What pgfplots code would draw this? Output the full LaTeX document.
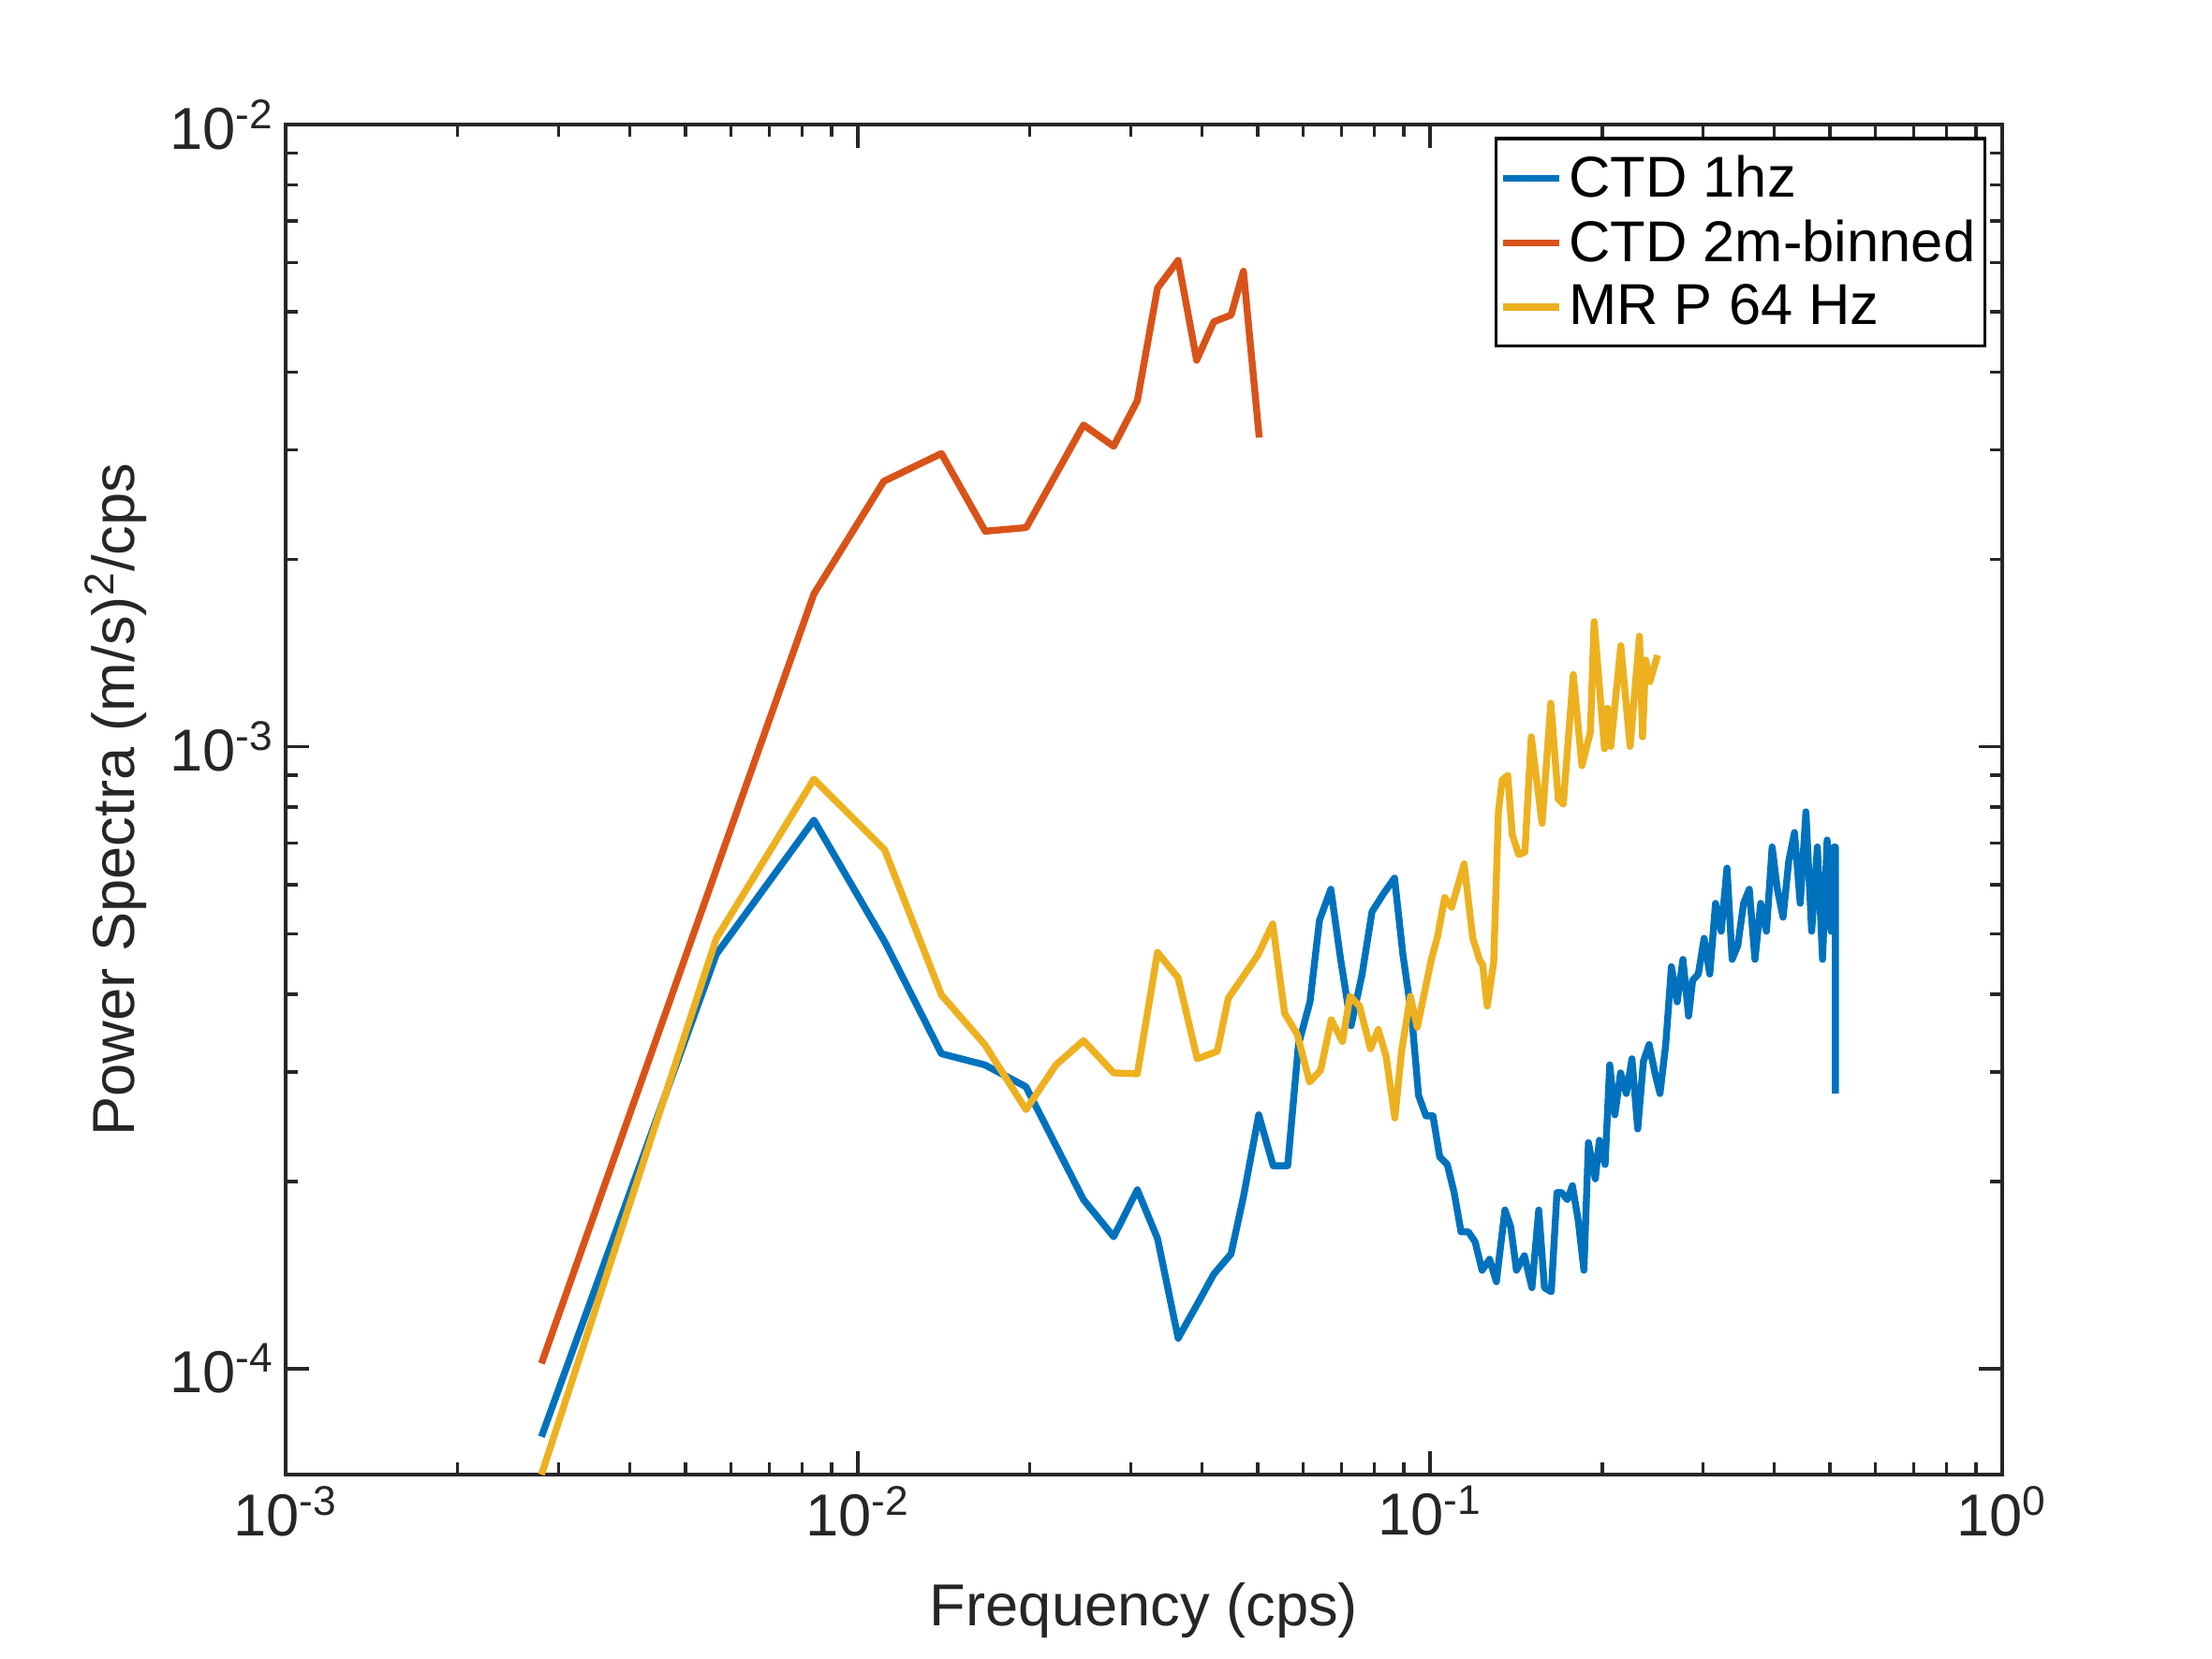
\documentclass[border=0pt]{standalone}
\usepackage{pgfplots}
\pgfplotsset{compat=1.18}
\usepackage{fontspec}
\setmainfont{Liberation Sans}
\definecolor{mblue}{RGB}{0,114,189}
\definecolor{morange}{RGB}{217,83,25}
\definecolor{myellow}{RGB}{237,177,32}
\definecolor{axgray}{RGB}{38,38,38}
\begin{document}
\begin{tikzpicture}
\useasboundingbox (0,0) rectangle (23.62cm,17.71cm);
\begin{axis}[
  at={(3.05cm,1.96cm)}, anchor=south west,
  scale only axis, width=18.33cm, height=14.42cm,
  xmode=log, ymode=log,
  xmin=1e-3, xmax=1, ymin=6.76e-5, ymax=1e-2,
  xtick={0.001,0.01,0.1,1},
  xticklabels={10\textsuperscript{-3},10\textsuperscript{-2},10\textsuperscript{-1},10\textsuperscript{0}},
  ytick={0.0001,0.001,0.01},
  yticklabels={10\textsuperscript{-4},10\textsuperscript{-3},10\textsuperscript{-2}},
  tick label style={font=\fontsize{18}{21}\selectfont, text=axgray},
  label style={font=\fontsize{18}{21}\selectfont, text=axgray},
  xlabel={Frequency (cps)},
  xlabel style={yshift=-0.25cm},
  ylabel={Power Spectra (m/s)\textsuperscript{2}/cps},
  axis line style={axgray, line width=0.9pt},
  every tick/.style={axgray, line width=0.9pt},
  major tick length=0.25cm, minor tick length=0.13cm,
  tick align=inside, xtick pos=both, ytick pos=both,
  legend style={at={(0.991,0.9907)}, anchor=north east, draw=black, line width=0.9pt,
    font=\fontsize{17.5}{21}\selectfont, inner xsep=1pt, inner ysep=3pt, row sep=1.5pt},
  legend image code/.code={\draw[#1] (0cm,0cm) -- (0.6cm,0cm);},
  legend cell align=left,
  every axis plot/.append style={line width=2.1pt, line join=round},
]
\addplot[mblue, mark=none] coordinates {
(0.0028,7.78e-5)(0.00566,4.64e-4)(0.00838,7.62e-4)(0.01114,4.86e-4)(0.0140,3.21e-4)(0.01667,3.08e-4)(0.01968,2.84e-4)(0.0248,1.87e-4)(0.0280,1.63e-4)(0.0308,1.94e-4)(0.0334,1.62e-4)(0.0363,1.12e-4)(0.0392,1.27e-4)(0.0419,1.42e-4)(0.0449,1.53e-4)(0.0472,1.89e-4)(0.0502,2.56e-4)(0.0532,2.12e-4)(0.0564,2.12e-4)(0.0589,3.32e-4)(0.0617,3.89e-4)(0.0641,5.26e-4)(0.0671,5.90e-4)(0.0698,4.55e-4)(0.0728,3.56e-4)(0.0761,4.31e-4)(0.0792,5.43e-4)(0.0830,5.81e-4)(0.0867,6.15e-4)(0.0897,4.62e-4)(0.0929,3.69e-4)(0.0955,2.75e-4)(0.0984,2.55e-4)(0.1012,2.55e-4)(0.1040,2.19e-4)(0.1072,2.13e-4)(0.1102,1.92e-4)(0.1133,1.66e-4)(0.1167,1.66e-4)(0.1199,1.60e-4)(0.1233,1.44e-4)(0.1271,1.50e-4)(0.1306,1.38e-4)(0.1352,1.80e-4)(0.1384,1.69e-4)(0.1416,1.44e-4)(0.1462,1.52e-4)(0.1507,1.35e-4)(0.1549,1.80e-4)(0.1585,1.35e-4)(0.1629,1.33e-4)(0.1667,1.92e-4)(0.1698,1.92e-4)(0.1738,1.87e-4)(0.1774,1.97e-4)(0.1816,1.73e-4)(0.1858,1.44e-4)(0.1892,2.31e-4)(0.1945,2.02e-4)(0.1977,2.33e-4)(0.2023,2.13e-4)(0.2061,3.08e-4)(0.2104,2.56e-4)(0.2153,2.99e-4)(0.2203,2.77e-4)(0.2254,3.15e-4)(0.2307,2.43e-4)(0.2360,3.12e-4)(0.2415,3.32e-4)(0.2472,2.99e-4)(0.2523,2.77e-4)(0.2582,3.32e-4)(0.2642,4.43e-4)(0.2704,3.89e-4)(0.2767,4.55e-4)(0.2831,3.69e-4)(0.2877,4.21e-4)(0.2944,4.31e-4)(0.3013,4.92e-4)(0.3083,4.31e-4)(0.3155,5.60e-4)(0.3228,5.05e-4)(0.3304,6.38e-4)(0.3373,4.55e-4)(0.3451,4.79e-4)(0.3532,5.60e-4)(0.3614,5.90e-4)(0.3698,4.55e-4)(0.3784,5.60e-4)(0.3873,5.05e-4)(0.3963,6.90e-4)(0.4046,5.90e-4)(0.4140,5.32e-4)(0.4236,6.55e-4)(0.4335,7.28e-4)(0.4436,5.60e-4)(0.4539,7.86e-4)(0.4645,5.05e-4)(0.4753,6.90e-4)(0.4853,4.55e-4)(0.4943,7.08e-4)(0.5023,5.05e-4)(0.508,6.90e-4)(0.511,6.9e-4)(0.511,2.77e-4)
};
\addlegendentry{CTD 1hz}
\addplot[morange, mark=none] coordinates {
(0.0028,1.02e-4)(0.00838,1.76e-3)(0.0111,2.67e-3)(0.0140,2.96e-3)(0.0167,2.22e-3)(0.0197,2.25e-3)(0.0248,3.29e-3)(0.0280,3.04e-3)(0.0308,3.6e-3)(0.0334,5.46e-3)(0.0363,6.05e-3)(0.0391,4.18e-3)(0.0419,4.82e-3)(0.0449,4.94e-3)(0.0472,5.81e-3)(0.0503,3.14e-3)
};
\addlegendentry{CTD 2m-binned}
\addplot[myellow, mark=none] coordinates {
(0.0028,6.76e-5)(0.00566,4.92e-4)(0.00838,8.87e-4)(0.01114,6.83e-4)(0.0140,3.99e-4)(0.01667,3.32e-4)(0.01968,2.61e-4)(0.0222,3.08e-4)(0.0248,3.37e-4)(0.0280,2.99e-4)(0.0308,2.98e-4)(0.0334,4.67e-4)(0.0363,4.25e-4)(0.0392,3.15e-4)
(0.0425,3.24e-4)(0.0444,3.94e-4)(0.0500,4.62e-4)(0.0531,5.19e-4)(0.0557,3.73e-4)(0.0586,3.45e-4)(0.0616,2.89e-4)(0.0644,3.02e-4)(0.0672,3.64e-4)(0.0703,3.36e-4)(0.0725,3.97e-4)(0.0753,3.83e-4)(0.0787,3.27e-4)(0.0812,3.51e-4)(0.0838,3.18e-4)(0.0868,2.53e-4)(0.0892,3.24e-4)(0.0924,3.97e-4)(0.0950,3.54e-4)(0.1005,4.54e-4)(0.1031,4.96e-4)(0.1061,5.72e-4)(0.1091,5.52e-4)(0.1147,6.48e-4)(0.1188,4.92e-4)(0.1221,4.54e-4)(0.1236,4.46e-4)(0.1259,3.83e-4)(0.1292,4.50e-4)(0.1317,7.87e-4)(0.1337,8.84e-4)(0.1367,8.99e-4)(0.1393,7.21e-4)(0.1429,6.71e-4)(0.1465,6.77e-4)(0.1503,1.037e-3)(0.1570,7.53e-4)(0.1626,1.174e-3)(0.1676,8.23e-4)(0.1710,8.09e-4)(0.1780,1.306e-3)(0.1843,9.32e-4)(0.1907,1.055e-3)(0.1936,1.589e-3)(0.2018,9.92e-4)(0.2044,1.153e-3)(0.2070,1.001e-3)(0.2155,1.453e-3)(0.2237,1.001e-3)(0.2323,1.506e-3)(0.2352,1.037e-3)(0.2382,1.378e-3)(0.2422,1.272e-3)(0.2499,1.403e-3)
};
\addlegendentry{MR P 64 Hz}
\end{axis}
\end{tikzpicture}
\end{document}
